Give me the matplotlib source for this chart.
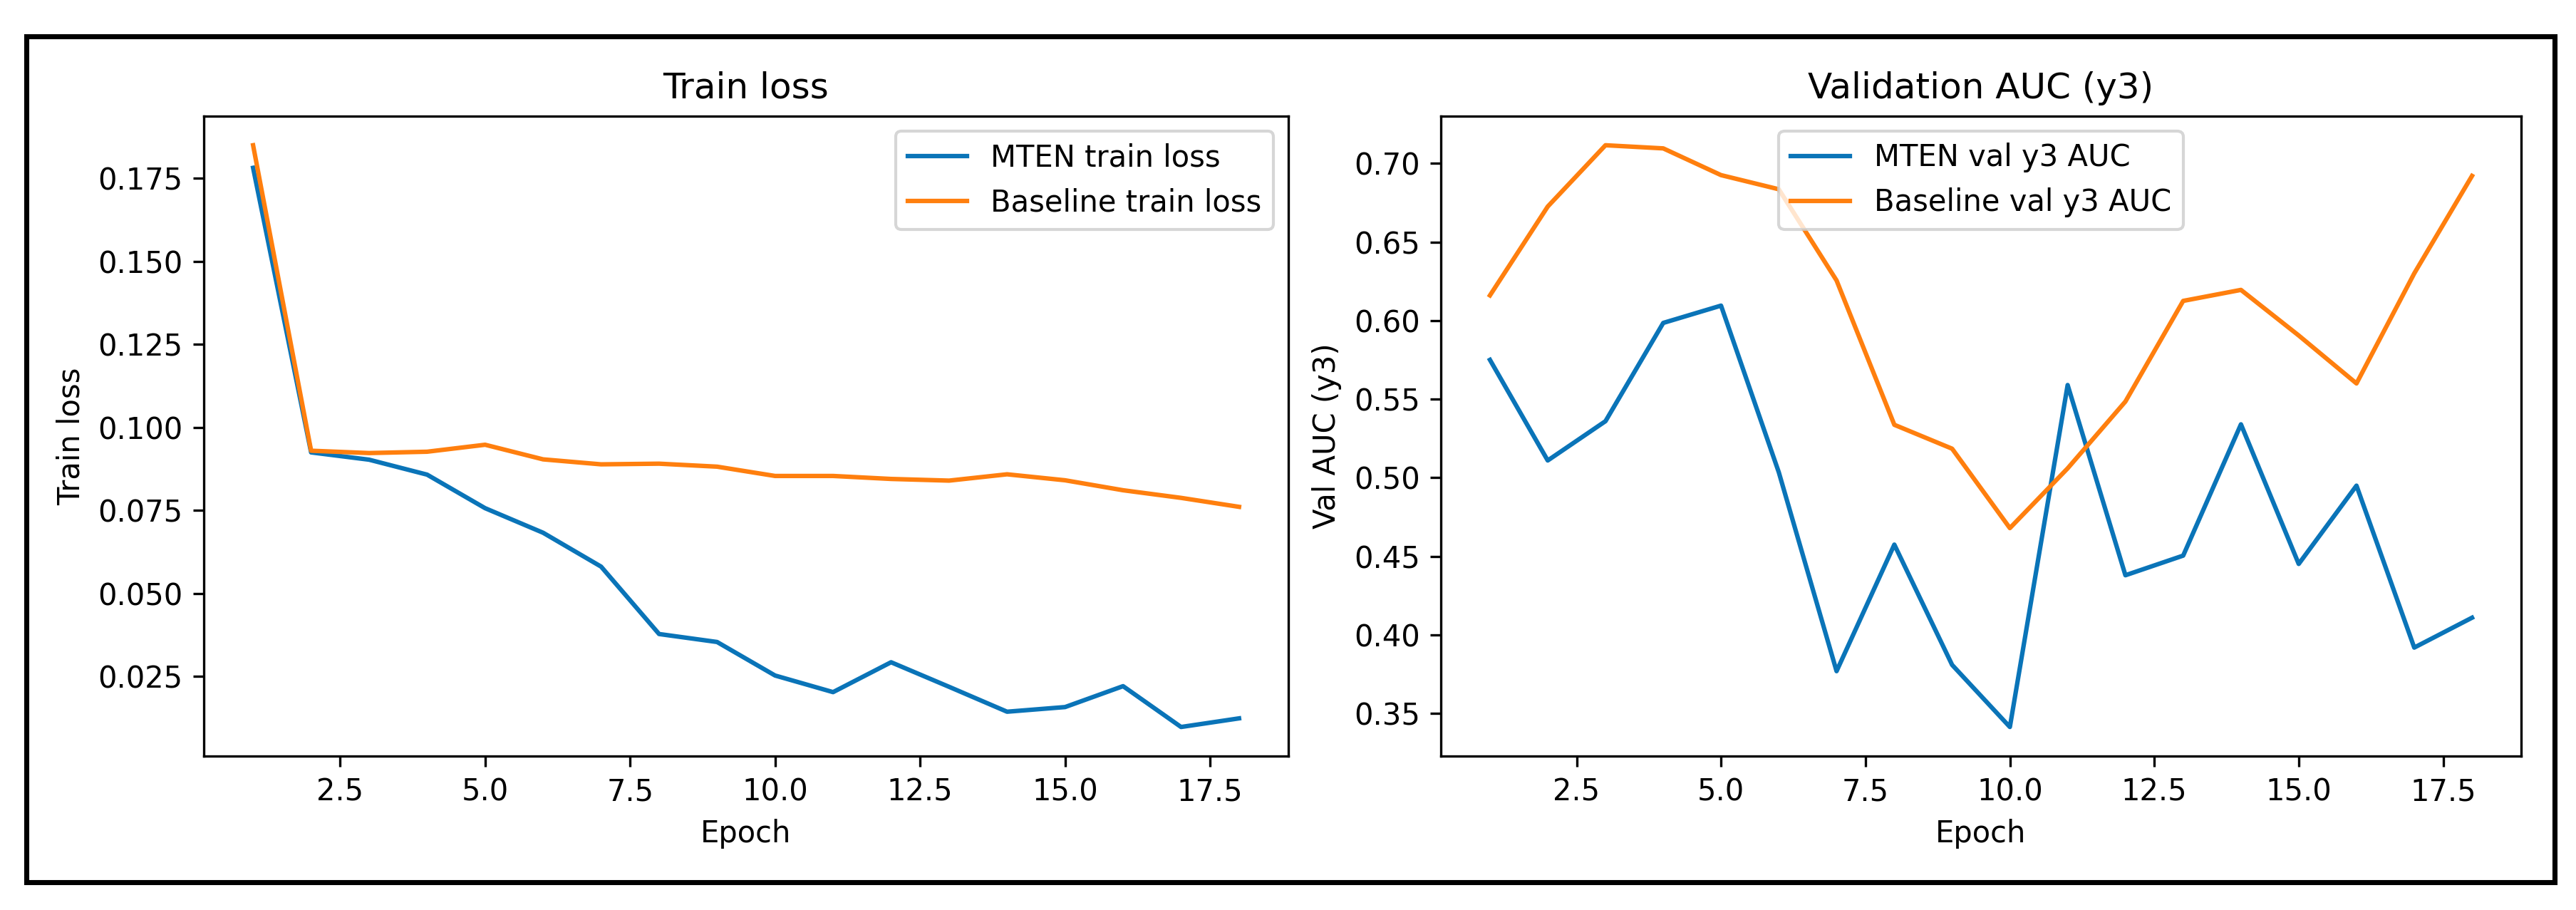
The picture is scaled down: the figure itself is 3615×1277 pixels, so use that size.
import matplotlib
matplotlib.use("Agg")
import matplotlib.pyplot as plt
from matplotlib.patches import Rectangle

# values
epochs = list(range(1, 19))

mten_loss = [0.1782, 0.0925, 0.0903, 0.0858, 0.0757, 0.0683, 0.0581, 0.0378, 0.0354,
             0.0253, 0.0203, 0.0293, 0.0219, 0.0144, 0.0158, 0.0221, 0.0098, 0.0124]
base_loss = [0.1850, 0.0930, 0.0923, 0.0927, 0.0948, 0.0904, 0.0889, 0.0891, 0.0882,
             0.0854, 0.0854, 0.0845, 0.0840, 0.0859, 0.0841, 0.0811, 0.0788, 0.0761]

mten_auc = [0.5750, 0.5110, 0.5360, 0.5985, 0.6095, 0.5035, 0.3770, 0.4575, 0.3810,
            0.3415, 0.5590, 0.4380, 0.4505, 0.5340, 0.4452, 0.4950, 0.3920, 0.4110]
base_auc = [0.6160, 0.6725, 0.7115, 0.7095, 0.6925, 0.6835, 0.6255, 0.5337, 0.5185,
            0.4680, 0.5060, 0.5485, 0.6125, 0.6195, 0.5905, 0.5600, 0.6300, 0.6920]

blue = "#0a74b8"
orange = "#ff7f0e"

W, H = 3615, 1277
fig = plt.figure(figsize=(W / 300, H / 300), dpi=300)

ax1 = fig.add_axes([286 / W, 1 - 1061 / H, (1808 - 286) / W, (1061 - 163) / H])
ax2 = fig.add_axes([2022 / W, 1 - 1061 / H, (3538 - 2022) / W, (1061 - 163) / H])

ax1.plot(epochs, mten_loss, color=blue, label="MTEN train loss")
ax1.plot(epochs, base_loss, color=orange, label="Baseline train loss")
ax1.set_title("Train loss")
ax1.set_xlabel("Epoch")
ax1.set_ylabel("Train loss")
ax1.legend(loc="upper right")

ax2.plot(epochs, mten_auc, color=blue, label="MTEN val y3 AUC")
ax2.plot(epochs, base_auc, color=orange, label="Baseline val y3 AUC")
ax2.set_title("Validation AUC (y3)")
ax2.set_xlabel("Epoch")
ax2.set_ylabel("Val AUC (y3)")
ax2.legend(loc="upper center")

# black frame around the whole figure
fig.patches.append(Rectangle((36.5 / W, 1 - 1237.5 / H), (3585 - 36.5) / W, (1237.5 - 51) / H,
                             transform=fig.transFigure, fill=False,
                             edgecolor="black", linewidth=1.7))

fig.savefig("out.png", dpi=300)
